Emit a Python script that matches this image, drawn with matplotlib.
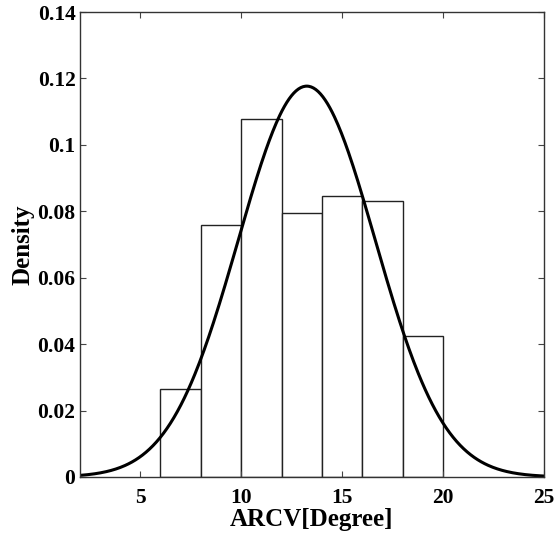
import numpy as np
from matplotlib import pyplot as plt

# histogram bins (degrees) and density heights
bin_edges = [6, 8, 10, 12, 14, 16, 18, 20]
densities = [0.0265, 0.0759, 0.1079, 0.0796, 0.0847, 0.0830, 0.0424]

# fitted normal curve
fit_mean = 13.25
fit_std = 3.39

x_ticks = [5, 10, 15, 20, 25]
y_ticks = [0, 0.02, 0.04, 0.06, 0.08, 0.1, 0.12, 0.14]
y_tick_labels = ['0', '0.02', '0.04', '0.06', '0.08', '0.1', '0.12', '0.14']

plt.rcParams['font.family'] = ['Liberation Serif', 'DejaVu Serif']
plt.rcParams['font.weight'] = 'bold'

fig = plt.figure(figsize=(5.56, 5.34), dpi=100)
ax = fig.add_axes([79.6 / 556, 1 - 477 / 534, (544 - 79.6) / 556, (477 - 12) / 534])

widths = np.diff(bin_edges)
ax.bar(bin_edges[:-1], densities, width=widths, align='edge',
       facecolor='white', edgecolor='#222222', linewidth=1.0)

xs = np.linspace(2, 25, 400)
pdf = np.exp(-0.5 * ((xs - fit_mean) / fit_std) ** 2) / (fit_std * np.sqrt(2 * np.pi))
ax.plot(xs, pdf, color='black', linewidth=2.2)

ax.set_xlim(2, 25)
ax.set_ylim(0, 0.14)
ax.set_xticks(x_ticks)
ax.set_yticks(y_ticks)
ax.set_yticklabels(y_tick_labels)
ax.tick_params(direction='in', top=True, right=True, length=4, width=0.8,
               labelsize=15.5, color='#444444')
ax.tick_params(axis='x', pad=8)
ax.tick_params(axis='y', pad=3)
for s in ax.spines.values():
    s.set_linewidth(1.0)
    s.set_color('#333333')

ax.set_xlabel('ARCV[Degree]', fontsize=18, fontweight='bold', labelpad=0)
ax.set_ylabel('Density', fontsize=18, fontweight='bold', labelpad=2)

fig.savefig('out.png', dpi=100)
